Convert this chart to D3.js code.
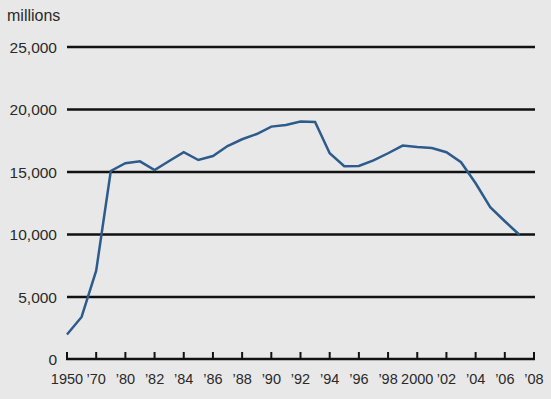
<!DOCTYPE html>
<html>
<head>
<meta charset="utf-8">
<script src="https://cdn.jsdelivr.net/npm/d3@7"></script>
<style>
  html, body { margin: 0; padding: 0; background: #e8e8e8; }
  svg { display: block; font-family: "Liberation Sans", Arial, sans-serif; }
</style>
</head>
<body>
<div id="chart"></div>
<script>
// data points (x positions are evenly spaced, one per entry)
const years = [1950, 1960, 1970, 1975, 1980, 1981, 1982, 1983, 1984, 1985, 1986, 1987, 1988,
  1989, 1990, 1991, 1992, 1993, 1994, 1995, 1996, 1997, 1998, 1999, 2000, 2001, 2002,
  2003, 2004, 2005, 2006, 2007]
const values = [2000, 3400, 7100, 15080, 15700, 15850, 15160, 15880, 16580, 15960, 16280, 17080,
  17620, 18040, 18630, 18760, 19030, 19000, 16500, 15460, 15480, 15930, 16500, 17110, 17000,
  16920, 16580, 15780, 14100, 12180, 11060, 9980]

// tick labels, one every other slot
const tickYears = [1950, 1970, 1980, 1982, 1984, 1986, 1988, 1990, 1992, 1994, 1996, 1998,
  2000, 2002, 2004, 2006, 2008]
const tickLabels = ['1950', '\u201970', '\u201980', '\u201982', '\u201984', '\u201986', '\u201988',
  '\u201990', '\u201992', '\u201994', '\u201996', '\u201998', '2000', '\u201902', '\u201904',
  '\u201906', '\u201908']
const yTicks = [0, 5000, 10000, 15000, 20000, 25000]

const width = 551
const height = 399

// slot index: 1950,1960,1970,1975 then one slot per year from 1980
const slot = yr => {
  if (yr >= 1980) return 4 + (yr - 1980)
  return [1950, 1960, 1970, 1975].indexOf(yr)
}

const x = d3.scaleLinear().domain([0, 32]).range([67, 534])
const y = d3.scaleLinear().domain([0, 25000]).range([359.5, 47])

const svg = d3.select('#chart')
  .append('svg')
  .attr('width', width)
  .attr('height', height)

svg.append('rect')
  .attr('width', width)
  .attr('height', height)
  .attr('fill', '#e8e8e8')

svg.append('text')
  .attr('x', 7)
  .attr('y', 21)
  .attr('font-size', 16)
  .attr('fill', '#2a2a2a')
  .text('millions')

// gridlines
svg.append('g')
  .selectAll('line')
  .data(yTicks.filter(d => d > 0))
  .enter().append('line')
  .attr('x1', 67)
  .attr('x2', 535)
  .attr('y1', d => y(d))
  .attr('y2', d => y(d))
  .attr('stroke', '#111')
  .attr('stroke-width', 2.5)

// y labels
svg.append('g')
  .selectAll('text')
  .data(yTicks)
  .enter().append('text')
  .attr('x', 57)
  .attr('y', d => y(d))
  .attr('dy', '0.36em')
  .attr('text-anchor', 'end')
  .attr('font-size', 15.5)
  .attr('fill', '#2a2a2a')
  .text(d => d3.format(',')(d))

// x axis
const xAxis = svg.append('g')
xAxis.append('line')
  .attr('x1', x(0) - 1)
  .attr('x2', x(32) + 1)
  .attr('y1', 359)
  .attr('y2', 359)
  .attr('stroke', '#111')
  .attr('stroke-width', 2.5)

xAxis.selectAll('.tick')
  .data(tickYears)
  .enter().append('line')
  .attr('x1', d => x(slot(d)))
  .attr('x2', d => x(slot(d)))
  .attr('y1', 352)
  .attr('y2', 360)
  .attr('stroke', '#111')
  .attr('stroke-width', 2)

xAxis.selectAll('text')
  .data(tickYears)
  .enter().append('text')
  .attr('x', d => x(slot(d)))
  .attr('y', 384)
  .attr('text-anchor', 'middle')
  .attr('font-size', 14.5)
  .attr('fill', '#2a2a2a')
  .text((d, i) => tickLabels[i])

// data line
const line = d3.line()
  .x((d, i) => x(slot(years[i])))
  .y(d => y(d))

svg.append('path')
  .datum(values)
  .attr('d', line)
  .attr('fill', 'none')
  .attr('stroke', '#2d5b8c')
  .attr('stroke-width', 2.5)
  .attr('stroke-linejoin', 'miter')
</script>
</body>
</html>
